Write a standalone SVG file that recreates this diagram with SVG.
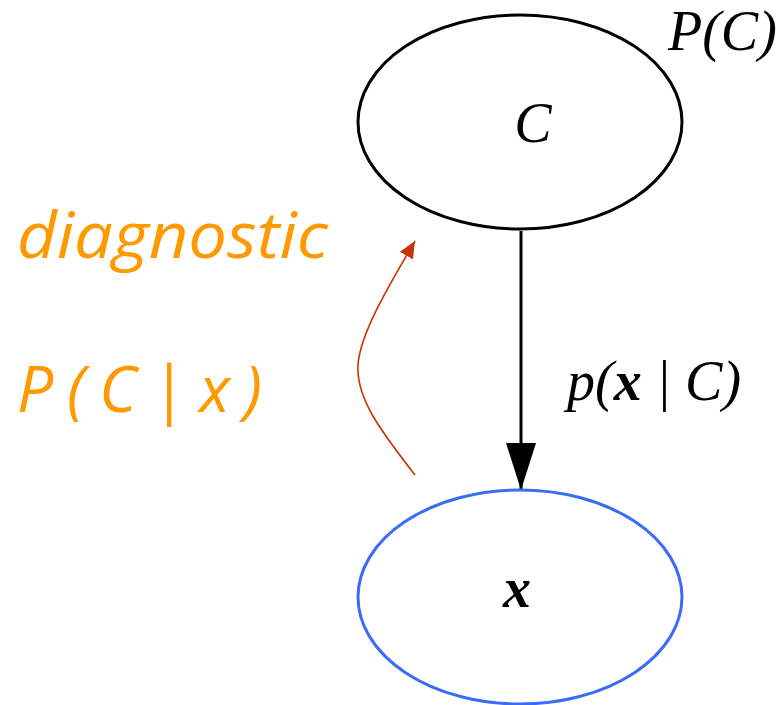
<svg xmlns="http://www.w3.org/2000/svg" width="782" height="705" viewBox="0 0 782 705">
<style>
.node{fill:#fff;stroke-width:3}
.math{font-family:"Liberation Serif",serif;font-style:italic;font-size:56px;fill:#000}
.orange{font-family:"Open Sans","DejaVu Sans",sans-serif;font-style:italic;fill:#ff9900;font-size:64px}
</style>
<defs>
<marker id="ab" markerUnits="userSpaceOnUse" markerWidth="47" markerHeight="30" refX="47" refY="15" viewBox="0 0 47 30" orient="auto">
<path d="M0,0 L47,15 L0,30 Z" fill="#000"/>
</marker>
<marker id="ar" markerUnits="userSpaceOnUse" markerWidth="17" markerHeight="15" refX="17" refY="7.5" viewBox="0 0 17 15" orient="auto">
<path d="M0,0 L17,7.5 L0,15 Z" fill="#cc3300"/>
</marker>
</defs>
<rect width="782" height="705" fill="#fff"/>
<g id="connectors">
<line x1="521" y1="231" x2="521" y2="490" stroke="#000" stroke-width="3" marker-end="url(#ab)"/>
<path d="M415,475 C380,430 356,398 358,365 C360,335 385,292 415,241" fill="none" stroke="#cc3300" stroke-width="1.6" marker-end="url(#ar)"/>
</g>
<g id="node-C">
<ellipse class="node" cx="520" cy="122" rx="162" ry="107" stroke="#000"/>
<text class="math" x="533" y="142" text-anchor="middle">C</text>
<text class="math" x="668" y="50">P(C)</text>
</g>
<g id="node-x">
<ellipse class="node" cx="520" cy="597" rx="162" ry="107" stroke="#3b6cf5"/>
<text class="math" x="517" y="607" text-anchor="middle" font-weight="bold">x</text>
</g>
<g id="labels">
<text class="math" x="567" y="400">p(<tspan font-weight="bold">x</tspan> | C)</text>
<text class="orange" x="17" y="258" textLength="311" lengthAdjust="spacingAndGlyphs">diagnostic</text>
<text class="orange" x="17" y="412" textLength="245" lengthAdjust="spacing">P ( C | x )</text>
</g>
</svg>
